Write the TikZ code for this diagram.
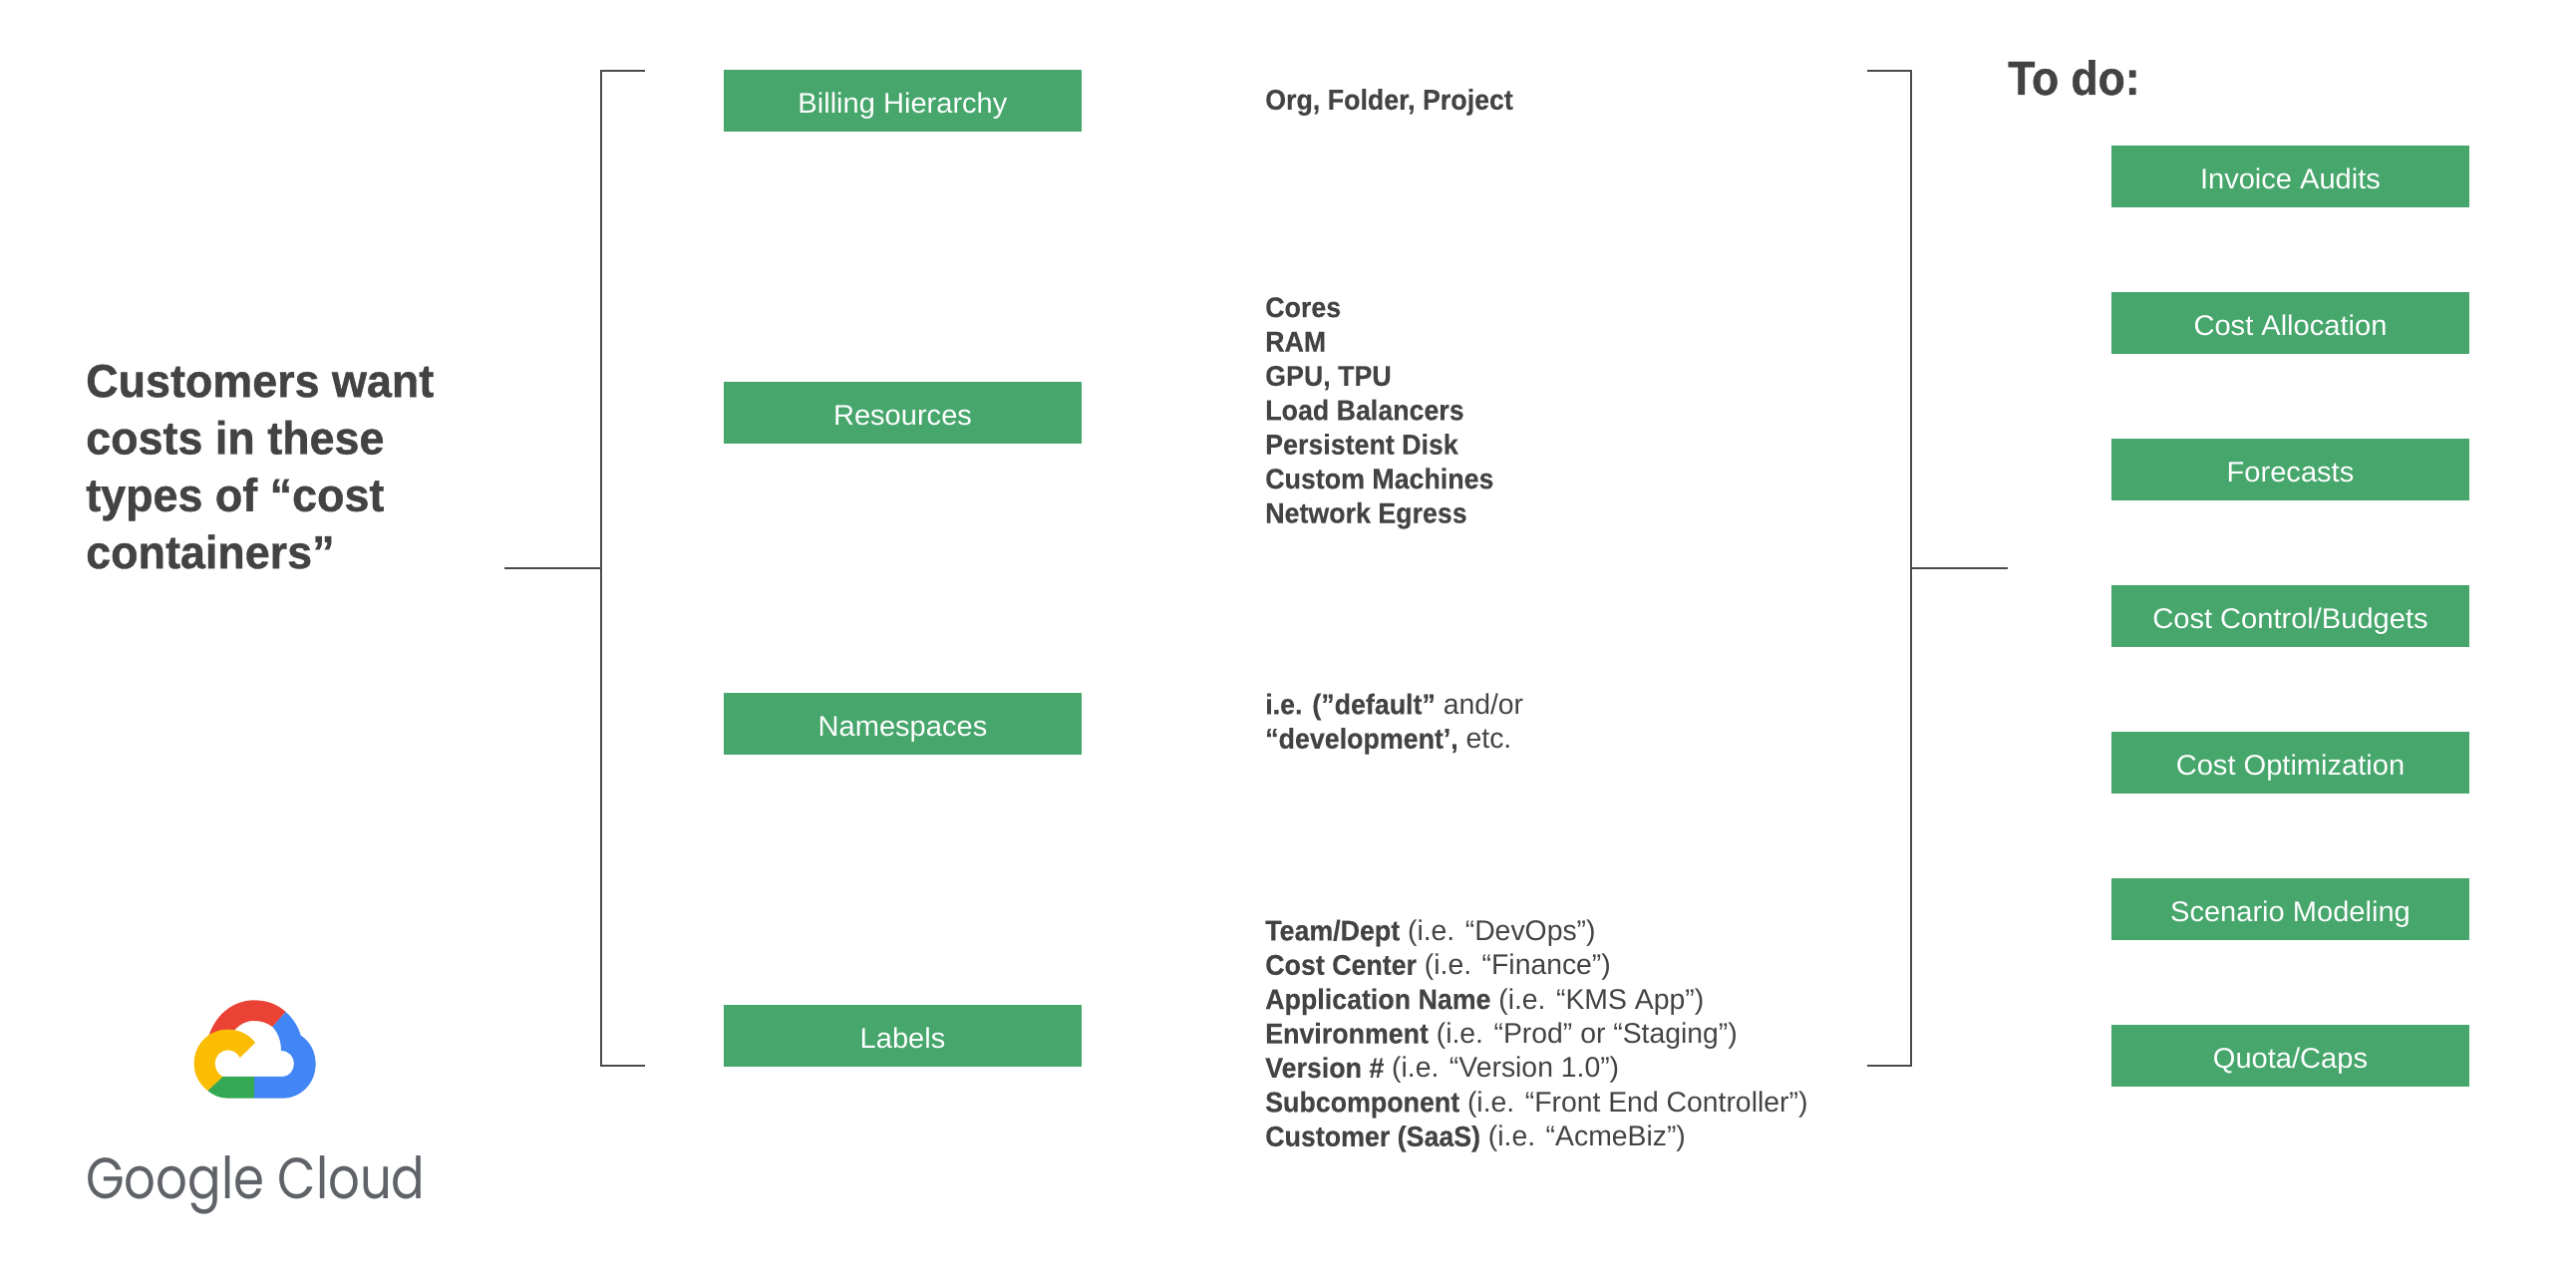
\documentclass[tikz,border=0pt]{standalone}
\usepackage{fontspec}
\setmainfont{Liberation Sans}[FakeStretch=0.995,BoldFeatures={FakeStretch=0.94,FakeBold=0.25}]
\newfontfamily\boxfont{Liberation Sans}[FakeStretch=1.02]
\newfontfamily\titlefont{Liberation Sans Bold}[FakeStretch=0.965,FakeBold=0.8]
\newfontfamily\todofont{Liberation Sans Bold}[FakeStretch=0.925,FakeBold=0.8]
\newfontfamily\logofont{Poppins}[FakeStretch=0.858]
\definecolor{boxgreen}{HTML}{46A66C}
\definecolor{inktext}{HTML}{434343}
\definecolor{rulegrey}{HTML}{4A4A4A}
\definecolor{gred}{HTML}{EA4335}
\definecolor{gblue}{HTML}{4285F4}
\definecolor{ggreen}{HTML}{34A853}
\definecolor{gyellow}{HTML}{FBBC04}
\definecolor{ggrey}{HTML}{5F6368}
\tikzset{
  greenbox/.style={fill=boxgreen,text=white,inner sep=0pt,minimum width=359pt,
    text height=43pt,text depth=19pt,font=\boxfont\fontsize{28.5}{34}\selectfont},
  bracketline/.style={draw=rulegrey,line width=2.6pt},
  listtext/.style={text=inktext,inner sep=0pt,align=left,anchor=north west,
    font=\fontsize{28.5}{34.4}\selectfont},
  headtext/.style={text=inktext,inner sep=0pt,align=left,anchor=north west,
    font=\titlefont\fontsize{46.5}{57.3}\selectfont},
}
\begin{document}
\begin{tikzpicture}[x=1pt,y=-1pt]
\useasboundingbox (0,0) rectangle (2584,1290);
% left bracket
\coordinate (lt) at (647,71); \coordinate (ltc) at (603,71);
\coordinate (lb) at (647,1069); \coordinate (lbc) at (603,1069);
\coordinate (lm) at (506,570); \coordinate (lmc) at (603,570);
\draw[bracketline] (lt) -- (ltc) -- (lbc) -- (lb);
\draw[bracketline] (lm) -- (lmc);
% right bracket
\coordinate (rt) at (1873,71); \coordinate (rtc) at (1917,71);
\coordinate (rb) at (1873,1069); \coordinate (rbc) at (1917,1069);
\coordinate (rm) at (2014,570); \coordinate (rmc) at (1917,570);
\draw[bracketline] (rt) -- (rtc) -- (rbc) -- (rb);
\draw[bracketline] (rm) -- (rmc);
% left text
\node[headtext] (title) at (86,365.5) {Customers want\\costs in these\\types of “cost\\containers”};
% middle boxes
\node[greenbox] (b1) at (905.5,101) {Billing Hierarchy};
\node[greenbox] (b2) at (905.5,414) {Resources};
\node[greenbox] (b3) at (905.5,726) {Namespaces};
\node[greenbox] (b4) at (905.5,1039) {Labels};
% lists
\node[listtext] (l1) at (1269,89) {\bfseries Org, Folder, Project};
\node[listtext] (l2) at (1269,298) {\bfseries Cores\\\bfseries RAM\\\bfseries GPU, TPU\\\bfseries Load Balancers\\\bfseries Persistent Disk\\\bfseries Custom Machines\\\bfseries Network Egress};
\node[listtext] (l3) at (1269,695.5) {\textbf{i.e. (”default”} and/or\\\textbf{“development’,} etc.};
\node[listtext] (l4) at (1269,922.5) {\textbf{Team/Dept} (i.e. “DevOps”)\\\textbf{Cost Center} (i.e. “Finance”)\\\textbf{Application Name} (i.e. “KMS App”)\\\textbf{Environment} (i.e. “Prod” or “Staging”)\\\textbf{Version \#} (i.e. “Version 1.0”)\\\textbf{Subcomponent} (i.e. “Front End Controller”)\\\textbf{Customer (SaaS)} (i.e. “AcmeBiz”)};
% to do
\node[headtext,font=\todofont\fontsize{48}{57}\selectfont] (todo) at (2014,60) {To do:};
\node[greenbox] (r1) at (2297.5,177) {Invoice Audits};
\node[greenbox] (r2) at (2297.5,324) {Cost Allocation};
\node[greenbox] (r3) at (2297.5,471) {Forecasts};
\node[greenbox] (r4) at (2297.5,618) {Cost Control/Budgets};
\node[greenbox] (r5) at (2297.5,765) {Cost Optimization};
\node[greenbox] (r6) at (2297.5,912) {Scenario Modeling};
\node[greenbox] (r7) at (2297.5,1059) {Quota/Caps};
% logo: zoom coordinates /3
\begin{scope}[x=0.3333pt,y=-0.3333pt,yshift=-950pt]
\fill[gred] (628,268) .. controls (650,200) and (705,160) .. (765,160) .. controls (805,160) and (835,173) .. (860,195) -- (820,240) .. controls (805,228) and (785,222) .. (765,222) .. controls (740,222) and (722,232) .. (708,248) -- cycle;
\fill[gblue] (860,195) .. controls (882,215) and (898,240) .. (905,266) .. controls (933,284) and (950,315) .. (950,352) .. controls (950,410) and (905,455) .. (850,455) -- (765,455) -- (765,390) -- (850,390) .. controls (870,390) and (885,372) .. (885,351) .. controls (885,330) and (870,312) .. (846,312) .. controls (846,282) and (837,258) .. (820,240) -- cycle;
\fill[ggreen] (625,432) -- (670,390) -- (765,390) -- (765,455) -- (685,455) .. controls (662,455) and (642,446) .. (625,432) -- cycle;
\fill[gyellow] (625,432) .. controls (600,412) and (584,385) .. (584,350) .. controls (584,292) and (630,248) .. (685,248) .. controls (720,248) and (750,263) .. (768,288) -- (722,333) .. controls (715,318) and (702,310) .. (685,310) .. controls (664,310) and (647,328) .. (647,350) .. controls (647,368) and (656,382) .. (670,390) -- cycle;
\end{scope}
\node[text=ggrey,inner sep=0pt,anchor=base west,font=\logofont\fontsize{58}{58}\selectfont] (logo) at (86,1202) {Google Cloud};
\end{tikzpicture}
\end{document}
